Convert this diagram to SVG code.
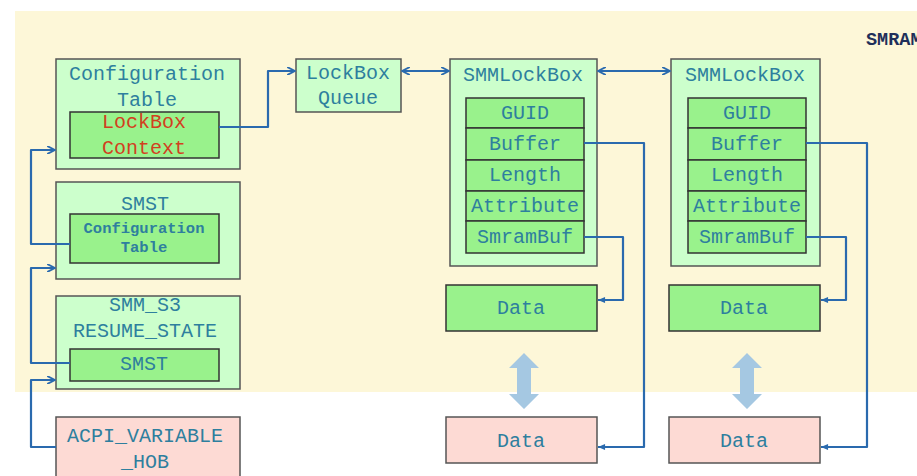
<svg xmlns="http://www.w3.org/2000/svg" width="917" height="476" viewBox="0 0 917 476">
  <defs>
    <marker id="chev" viewBox="0 0 10 10" refX="9" refY="5" markerWidth="4" markerHeight="4" orient="auto-start-reverse" markerUnits="strokeWidth">
      <path d="M1,1 L9,5 L1,9" fill="none" stroke="#2a6aae" stroke-width="2.2" stroke-linecap="round" stroke-linejoin="round"/>
    </marker>
    <marker id="tip" viewBox="0 0 10 10" refX="9" refY="5" markerWidth="4" markerHeight="4" orient="auto" markerUnits="strokeWidth">
      <path d="M1,1.5 L9,5 L1,8.5 Z" fill="#2a6aae"/>
    </marker>
    <style>
      .outer { fill: #ccffcc; stroke: #555; stroke-width: 1.5; }
      .inner { fill: #99f28c; stroke: #333; stroke-width: 1.5; }
      .pink  { fill: #fddad4; stroke: #555; stroke-width: 1.5; }
      .t { font-family: "Liberation Mono", "Courier New", monospace; font-size: 20px; fill: #2e7f9e; text-anchor: middle; }
      .red { fill: #d2401e; }
      .small { font-size: 15.5px; font-weight: bold; }
      .link { fill: none; stroke: #2a6aae; stroke-width: 2.2; stroke-linejoin: round; }
      .big { fill: #a5c8e2; }
    </style>
  </defs>

  <!-- page and SMRAM region -->
  <rect x="0" y="0" width="917" height="476" fill="#ffffff"/>
  <rect x="15" y="11" width="902" height="381" fill="#fdf7d8"/>
  <text x="866" y="45" font-family="Liberation Mono, monospace" font-size="18.5" font-weight="bold" fill="#1f2f5a">SMRAM</text>

  <!-- Configuration Table -->
  <g id="config-table">
    <rect class="outer" x="56" y="59" width="184" height="110"/>
    <text class="t" x="147" y="80">Configuration</text>
    <text class="t" x="147" y="106">Table</text>
    <rect class="inner" x="70" y="112" width="149" height="46"/>
    <text class="t red" x="144" y="128">LockBox</text>
    <text class="t red" x="144" y="154">Context</text>
  </g>

  <!-- SMST -->
  <g id="smst">
    <rect class="outer" x="56" y="182" width="184" height="97"/>
    <text class="t" x="145" y="210">SMST</text>
    <rect class="inner" x="70" y="214" width="149" height="49"/>
    <text class="t small" x="144" y="233">Configuration</text>
    <text class="t small" x="144" y="252">Table</text>
  </g>

  <!-- SMM_S3_RESUME_STATE -->
  <g id="smm-s3-resume-state">
    <rect class="outer" x="56" y="296" width="184" height="93"/>
    <text class="t" x="145" y="311">SMM_S3</text>
    <text class="t" x="145" y="337">RESUME_STATE</text>
    <rect class="inner" x="70" y="349" width="149" height="32"/>
    <text class="t" x="144" y="370">SMST</text>
  </g>

  <!-- ACPI_VARIABLE_HOB -->
  <g id="acpi-variable-hob">
    <rect class="pink" x="56" y="417" width="184" height="70"/>
    <text class="t" x="145" y="442">ACPI_VARIABLE</text>
    <text class="t" x="145" y="468">_HOB</text>
  </g>

  <!-- LockBox Queue -->
  <g id="lockbox-queue">
    <rect class="outer" x="296" y="59" width="105" height="53"/>
    <text class="t" x="348" y="79">LockBox</text>
    <text class="t" x="348" y="104">Queue</text>
  </g>

  <!-- SMMLockBox #1 -->
  <g id="smmlockbox-1">
    <rect class="outer" x="450" y="59" width="147" height="207"/>
    <text class="t" x="523" y="81">SMMLockBox</text>
    <rect class="inner" x="466" y="98" width="118" height="30"/>
    <rect class="inner" x="466" y="128" width="118" height="32"/>
    <rect class="inner" x="466" y="160" width="118" height="31"/>
    <rect class="inner" x="466" y="191" width="118" height="30"/>
    <rect class="inner" x="466" y="221" width="118" height="32"/>
    <text class="t" x="525" y="119">GUID</text>
    <text class="t" x="525" y="150">Buffer</text>
    <text class="t" x="525" y="181">Length</text>
    <text class="t" x="525" y="212">Attribute</text>
    <text class="t" x="525" y="243">SmramBuf</text>
  </g>

  <!-- SMMLockBox #2 -->
  <g id="smmlockbox-2">
    <rect class="outer" x="671" y="59" width="149" height="207"/>
    <text class="t" x="745" y="81">SMMLockBox</text>
    <rect class="inner" x="688" y="98" width="118" height="30"/>
    <rect class="inner" x="688" y="128" width="118" height="32"/>
    <rect class="inner" x="688" y="160" width="118" height="31"/>
    <rect class="inner" x="688" y="191" width="118" height="30"/>
    <rect class="inner" x="688" y="221" width="118" height="32"/>
    <text class="t" x="747" y="119">GUID</text>
    <text class="t" x="747" y="150">Buffer</text>
    <text class="t" x="747" y="181">Length</text>
    <text class="t" x="747" y="212">Attribute</text>
    <text class="t" x="747" y="243">SmramBuf</text>
  </g>

  <!-- Data blocks -->
  <g id="smram-data-1">
    <rect class="inner" x="446" y="285" width="151" height="46"/>
    <text class="t" x="521" y="314">Data</text>
  </g>
  <g id="smram-data-2">
    <rect class="inner" x="669" y="285" width="151" height="46"/>
    <text class="t" x="744" y="314">Data</text>
  </g>
  <g id="data-1">
    <rect class="pink" x="446" y="417" width="151" height="46"/>
    <text class="t" x="521" y="447">Data</text>
  </g>
  <g id="data-2">
    <rect class="pink" x="669" y="417" width="151" height="46"/>
    <text class="t" x="744" y="447">Data</text>
  </g>

  <!-- connectors -->
  <g id="connectors">
    <path class="link" d="M219,127 H268 V71 H295" marker-end="url(#chev)"/>
    <path class="link" d="M402,71 H449" marker-start="url(#chev)" marker-end="url(#chev)"/>
    <path class="link" d="M598,71 H670" marker-start="url(#chev)" marker-end="url(#chev)"/>

    <path class="link" d="M70,244 H31 V150 H55" marker-end="url(#chev)"/>
    <path class="link" d="M70,363 H31 V268 H55" marker-end="url(#chev)"/>
    <path class="link" d="M56,447 H31 V380 H55" marker-end="url(#chev)"/>

    <path class="link" d="M584,143 H644 V447 H598" marker-end="url(#tip)"/>
    <path class="link" d="M584,237 H623 V300 H598" marker-end="url(#tip)"/>
    <path class="link" d="M806,143 H867 V447 H821" marker-end="url(#tip)"/>
    <path class="link" d="M806,237 H846 V300 H821" marker-end="url(#tip)"/>

    <!-- copy between SMRAM and outside -->
    <path class="big" d="M524,353 L539,368 L531,368 L531,394 L539,394 L524,409 L509,394 L517,394 L517,368 L509,368 Z"/>
    <path class="big" d="M747,353 L762,368 L754,368 L754,394 L762,394 L747,409 L732,394 L740,394 L740,368 L732,368 Z"/>
  </g>
</svg>
